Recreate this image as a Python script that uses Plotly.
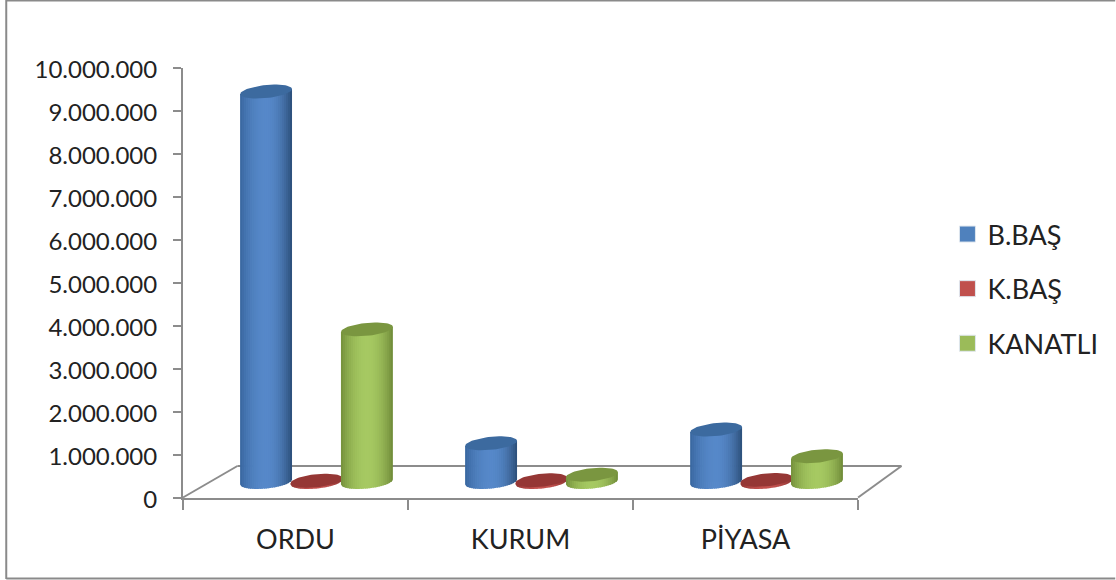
import numpy as np
import plotly.graph_objects as go

CATEGORIES = ["ORDU", "KURUM", "PİYASA"]
SERIES_NAMES = ["B.BAŞ", "K.BAŞ", "KANATLI"]
B_BAS = [9080000, 900000, 1220000]
K_BAS = [30000, 40000, 50000]
KANATLI = [3550000, 170000, 600000]
SERIES_VALUES = [B_BAS, K_BAS, KANATLI]

SWATCH = ["#4f81bd", "#c0504d", "#9bbb59"]
CENTER = ["#5688c9", "#c4524f", "#a6c962"]
EDGE_L = ["#38669f", "#8f3432", "#74903b"]
EDGE_R = ["#2b4e78", "#8a3331", "#6f8a38"]
CAP = ["#3c6a9f", "#953735", "#7a9640"]

W, H = 1116, 580
PL, PR, PT, PB = 182.5, 912.5, 40.0, 498.0      # plot rectangle in page pixels
FRONT_W, AXIS_H = 676.0, 430.0
DX, DY = 21.0, 16.0                              # depth shift of the columns
EXTRA = 9.0
PW, PH = PR - PL, PB - PT

PX_PER_CAT = FRONT_W / 3
PX_PER_UNIT = AXIS_H / 1e7
OFFSETS = [-50.5 / PX_PER_CAT, 0.0, 50.5 / PX_PER_CAT]
A = 26.0 / PX_PER_CAT       # half width of a column, category units
B_PX, TILT_PX = 6.5, 2.5    # ellipse half-height and tilt


def paper(x, y):
    return (x - PL) / PW, (PB - y) / PH


def lerp_hex(c0, c1, t):
    a = np.array([int(c0[i:i + 2], 16) for i in (1, 3, 5)], float)
    b = np.array([int(c1[i:i + 2], 16) for i in (1, 3, 5)], float)
    r = a + (b - a) * t
    return "rgb({:.0f},{:.0f},{:.0f})".format(*r)


fig = go.Figure()

# legend entries, and the category axis they live on
for name, col in zip(SERIES_NAMES, SWATCH):
    fig.add_trace(go.Scatter(
        x=CATEGORIES, y=[None] * 3, name=name, legendgroup=name, mode="markers",
        marker=dict(symbol="square", size=16, color=col, line=dict(color="#dfe6ee", width=1)),
        xaxis="x", yaxis="y", hoverinfo="skip"))

# the plain columns, under their cylinder shading
for s, (name, vals, col) in enumerate(zip(SERIES_NAMES, SERIES_VALUES, SWATCH)):
    fig.add_trace(go.Bar(
        x=list(range(3)), y=vals, name=name, showlegend=False, legendgroup=name,
        width=A * 1.0, offset=OFFSETS[s] - A * 0.5, marker=dict(color=col, line=dict(width=0)),
        xaxis="x2", yaxis="y2", hovertemplate=name + ": %{y:,d}<extra></extra>"))

# cylinder bodies and caps, scaled from the same values
N = 26
edges = np.linspace(-1, 1, N + 1)
B_U = B_PX / PX_PER_UNIT
T_U = TILT_PX / PX_PER_UNIT
for s, vals in enumerate(SERIES_VALUES):
    for k in range(N):
        u0, u1 = edges[k], edges[k + 1] + (0.03 if k < N - 1 else 0)
        um = (edges[k] + edges[k + 1]) / 2
        t = min(1.0, abs(um) ** 2.0)
        col = lerp_hex(CENTER[s], EDGE_L[s] if um < 0 else EDGE_R[s], t)
        xs, ys = [], []
        uu = np.linspace(u0, min(u1, 1.0), 5)
        for c, v in enumerate(vals):
            cx = c + OFFSETS[s]
            low = T_U * uu - B_U * np.sqrt(np.clip(1 - uu ** 2, 0, 1))
            top = v + T_U * uu
            xs += list(cx + A * uu) + list(cx + A * uu[::-1]) + [None]
            ys += list(low) + list(top[::-1]) + [None]
        fig.add_trace(go.Scatter(
            x=xs, y=ys, mode="lines", fill="toself", fillcolor=col, line=dict(width=0),
            showlegend=False, hoverinfo="skip", xaxis="x2", yaxis="y2"))
    th = np.linspace(0, 2 * np.pi, 61)
    xs, ys = [], []
    for c, v in enumerate(vals):
        xs += list(c + OFFSETS[s] + A * np.cos(th)) + [None]
        ys += list(v + B_U * np.sin(th) + T_U * np.cos(th)) + [None]
    fig.add_trace(go.Scatter(
        x=xs, y=ys, mode="lines", fill="toself", fillcolor=CAP[s], line=dict(width=0),
        showlegend=False, hoverinfo="skip", xaxis="x2", yaxis="y2"))

GRID = "#8c8c8c"
FRAME = "#8a8a8a"
shapes = []
for (x0, y0), (x1, y1) in [((182.5, 497.5), (237, 466)), ((237, 466), (902, 466)), ((902, 466), (858.5, 497.5))]:
    a, b = paper(x0, y0), paper(x1, y1)
    shapes.append(dict(type="line", xref="paper", yref="paper", x0=a[0], y0=a[1], x1=b[0], y1=b[1],
                       line=dict(color=GRID, width=2), layer="below"))
for (x0, y0), (x1, y1) in [((5.5, 0), (5.5, 579)), ((5.5, 0.5), (1116, 0.5)), ((5.5, 578.5), (1116, 578.5))]:
    a, b = paper(x0, y0), paper(x1, y1)
    shapes.append(dict(type="line", xref="paper", yref="paper", x0=a[0], y0=a[1], x1=b[0], y1=b[1],
                       line=dict(color=FRAME, width=2), layer="below"))

COLOR = "#222222"
fig.update_layout(
    width=W, height=H,
    margin=dict(l=PL, r=W - PR, t=PT, b=H - PB, pad=0, autoexpand=False),
    paper_bgcolor="white", plot_bgcolor="rgba(0,0,0,0)",
    font=dict(family="Lato", size=24, color=COLOR), separators=",.", barmode="overlay", shapes=shapes,
    showlegend=True,
    legend=dict(x=paper(948, 0)[0], xanchor="left", y=paper(0, 210)[1], yanchor="top",
                tracegroupgap=16.5, font=dict(family="Lato", size=27, color=COLOR),
                bgcolor="rgba(0,0,0,0)", traceorder="grouped"),
    xaxis=dict(type="category", categoryorder="array", categoryarray=CATEGORIES,
               domain=[0, FRONT_W / PW], range=[-0.5, 2.5], tickson="boundaries",
               ticks="outside", ticklen=10, tickwidth=2, tickcolor=GRID,
               tickfont=dict(family="Lato", size=27, color=COLOR),
               showline=True, linecolor=GRID, linewidth=2, showgrid=False, zeroline=False,
               ticklabelstandoff=17, anchor="y"),
    yaxis=dict(domain=[0, AXIS_H / PH], range=[0, 1e7], tick0=0, dtick=1e6, tickformat=",d",
               ticks="outside", ticklen=8, tickwidth=2, tickcolor=GRID,
               showline=True, linecolor=GRID, linewidth=2, showgrid=False, zeroline=False,
               ticklabelstandoff=11, ticklabelshift=2, anchor="x"),
    xaxis2=dict(type="linear", domain=[DX / PW, (DX + FRONT_W) / PW], range=[-0.5, 2.5],
                visible=False, anchor="y2"),
    yaxis2=dict(domain=[(DY - EXTRA) / PH, (DY + AXIS_H) / PH], range=[-EXTRA / PX_PER_UNIT, 1e7],
                visible=False, anchor="x2"),
)

fig.write_html("out.html", config=dict(displayModeBar=False),
               post_script="document.body.style.margin='0';document.body.style.overflow='hidden';")
